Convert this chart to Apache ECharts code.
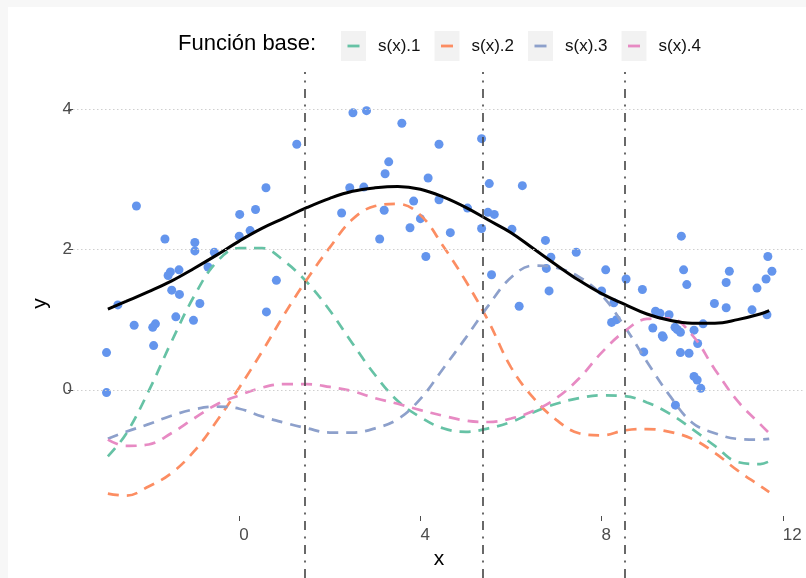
<!doctype html>
<html lang="es">
<head>
<meta charset="UTF-8">
<title>s(x)</title>
<style>
  html, body { margin: 0; padding: 0; background: #fff; }
</style>
</head>
<body>
<div id="chart" style="width: 806px; height: 578px"></div>
<script src="https://cdn.jsdelivr.net/npm/echarts@6/dist/echarts.min.js"></script>
<script>
// observed points
var pointX = [-2.27, -1.64, -0.98, -0.98, -0.55, -0.69, 0.01, 0.36, 0.59, 0.00, 0.24, -1.52, -1.57, -1.33,
    -1.49, -1.32, -0.87, -2.68, -1.40, -1.01, -2.32, -1.85, -1.91, -1.89, -2.93, -2.93, 0.60, 1.27, 2.51,
    2.81, 3.59, 4.41, 3.30, 3.22, 2.44, 2.75, 4.17, 3.85, 2.26, 3.20, 4.00, 3.77, 3.10, 4.12, 0.82, 4.41,
    5.35, 5.52, 6.25, 5.04, 5.49, 5.63, 4.66, 5.35, 6.02, 6.76, 6.88, 7.44, 6.78, 5.57, 6.84, 6.18, 8.09,
    8.00, 8.22, 8.33, 8.54, 9.76, 9.81, 9.88, 8.90, 10.82, 10.75, 11.67, 11.76, 11.63, 11.43, 10.49, 10.75,
    11.32, 11.65, 8.27, 9.19, 9.29, 9.49, 9.13, 9.34, 9.36, 9.62, 9.67, 9.74, 10.04, 10.24, 10.12, 9.74,
    9.93, 8.93, 10.04, 10.11, 10.19, 9.63];
var pointY = [2.62, 2.15, 2.10, 1.98, 1.96, 1.75, 2.50, 2.57, 2.88, 2.19, 2.27, 1.68, 1.63, 1.71,
    1.42, 1.36, 1.23, 1.21, 1.04, 0.99, 0.92, 0.94, 0.89, 0.63, 0.53, -0.04, 1.11, 3.50, 3.95,
    3.98, 3.80, 3.50, 3.25, 3.08, 2.88, 2.89, 3.02, 2.69, 2.52, 2.56, 2.44, 2.31, 2.15, 1.90, 1.56, 2.71,
    3.58, 2.94, 2.91, 2.59, 2.53, 2.50, 2.24, 2.30, 2.29, 2.13, 1.89, 1.96, 1.73, 1.64, 1.41, 1.19, 1.71,
    1.41, 0.96, 1.00, 1.58, 2.19, 1.71, 1.50, 1.43, 1.69, 1.53, 1.90, 1.69, 1.58, 1.45, 1.23, 1.17,
    1.14, 1.07, 1.24, 1.12, 1.09, 1.07, 0.88, 0.77, 0.75, 0.89, 0.86, 0.82, 0.85, 0.94, 0.66, 0.53,
    0.52, 0.54, 0.19, 0.14, 0.02, -0.22];

// curves sampled on a grid of x
var curveX = [-2.9, -2.5, -2, -1.5, -1, -0.5, 0, 0.5, 1, 1.5, 2, 2.5, 3, 3.5, 4, 4.5, 5, 5.5, 6, 6.5,
    7, 7.5, 8, 8.5, 9, 9.5, 10, 10.5, 11, 11.5, 11.7];
var fitY = [1.15, 1.26, 1.40, 1.55, 1.73, 1.92, 2.12, 2.30, 2.45, 2.60, 2.73, 2.83, 2.88, 2.90, 2.86,
    2.75, 2.60, 2.42, 2.24, 2.01, 1.78, 1.56, 1.37, 1.22, 1.08, 0.99, 0.95, 0.95, 1.00, 1.08, 1.13];
var s1 = [-0.95, -0.63, -0.02, 0.68, 1.33, 1.82, 2.02, 2.02, 1.83, 1.53, 1.13, 0.66, 0.21, -0.16, -0.39,
    -0.55, -0.60, -0.55, -0.46, -0.32, -0.20, -0.12, -0.08, -0.09, -0.18, -0.34, -0.56, -0.80, -1.03, -1.06, -1.02];
var s2 = [-1.48, -1.51, -1.38, -1.19, -0.88, -0.45, 0.03, 0.54, 1.08, 1.58, 2.03, 2.43, 2.62, 2.65, 2.49,
    2.05, 1.55, 0.98, 0.32, -0.12, -0.43, -0.62, -0.65, -0.58, -0.56, -0.60, -0.70, -0.90, -1.15, -1.37, -1.46];
var s3 = [-0.70, -0.60, -0.49, -0.37, -0.28, -0.24, -0.27, -0.38, -0.47, -0.55, -0.61, -0.61, -0.55, -0.42, -0.13,
    0.30, 0.74, 1.20, 1.60, 1.77, 1.74, 1.61, 1.35, 0.91, 0.40, -0.08, -0.47, -0.62, -0.70, -0.71, -0.70];
var s4 = [-0.71, -0.80, -0.78, -0.62, -0.41, -0.21, -0.08, 0.03, 0.08, 0.08, 0.04, -0.02, -0.12, -0.20, -0.29,
    -0.37, -0.44, -0.46, -0.41, -0.30, -0.12, 0.16, 0.53, 0.83, 1.01, 1.02, 0.78, 0.29, -0.16, -0.49, -0.62];

var basisNames = ['s(x).1', 's(x).2', 's(x).3', 's(x).4'];
var basisColors = ['#66c2a5', '#fc8d62', '#8da0cb', '#e78ac3'];
var knots = [1.44, 5.37, 8.50];
var xTicks = [0, 4, 8, 12];
var yTicks = [0, 2, 4];

var xMin = -3.67, xMax = 12.49, yMin = -1.8, yMax = 4.26;

function pairs(xs, ys) {
    return xs.map(function (x, i) { return [x, ys[i]]; });
}

var chart = echarts.init(document.getElementById('chart'));

// key: grey box (legend 0) with a short coloured bar on top (legend 1)
var keyIcon = 'path://M0,0L0,0M25,30L25,30M6.5,13.6L18.5,13.6L18.5,16.4L6.5,16.4Z';
var legendBase = {
    orient: 'horizontal',
    left: 341,
    top: 31,
    padding: 0,
    itemWidth: 25,
    itemHeight: 30,
    itemGap: 14,
    selectedMode: false,
    data: basisNames
};

var basisSeries = [s1, s2, s3, s4].map(function (ys, i) {
    return {
        name: basisNames[i],
        type: 'line',
        data: pairs(curveX, ys),
        smooth: 0.4,
        showSymbol: false,
        silent: true,
        z: 3,
        itemStyle: {color: basisColors[i]},
        lineStyle: {color: basisColors[i], width: 2.7, type: [11, 8]}
    };
});

var option = {
    backgroundColor: '#ffffff',
    animation: false,
    textStyle: {fontFamily: 'Liberation Sans, Arial, sans-serif'},
    graphic: [
        {type: 'rect', shape: {x: 0, y: 0, width: 8, height: 578}, style: {fill: '#f7f7f7'}, silent: true},
        {type: 'rect', shape: {x: 0, y: 0, width: 806, height: 7}, style: {fill: '#f7f7f7'}, silent: true}
    ],
    title: {
        text: 'Función base:',
        left: 178,
        top: 33,
        padding: 0,
        textStyle: {fontSize: 22, fontWeight: 'normal', color: '#000', fontFamily: 'Liberation Sans, Arial, sans-serif'}
    },
    legend: [
        Object.assign({}, legendBase, {
            z: 3,
            icon: 'rect',
            itemStyle: {color: '#f2f2f2', borderWidth: 0},
            textStyle: {fontSize: 17, color: 'rgba(0,0,0,0)', padding: [0, 0, 0, 7]}
        }),
        Object.assign({}, legendBase, {
            z: 4,
            icon: keyIcon,
            itemStyle: {borderWidth: 0},
            textStyle: {fontSize: 17, color: '#111', padding: [0, 0, 0, 7]}
        })
    ],
    grid: [
        {left: 73, right: 1, top: 91, bottom: 62},
        {left: 73, right: 1, top: 72, bottom: 0}
    ],
    xAxis: [
        {
            type: 'value', gridIndex: 0, min: xMin, max: xMax,
            name: 'x', nameLocation: 'middle', nameGap: 33,
            nameTextStyle: {fontSize: 21, color: '#000'},
            axisLine: {show: false, onZero: false},
            splitLine: {show: false},
            axisTick: {show: true, customValues: xTicks, length: 5, lineStyle: {color: '#4d4d4d'}},
            axisLabel: {customValues: xTicks, align: 'left', margin: 11, fontSize: 17, color: '#4d4d4d'}
        },
        {type: 'value', gridIndex: 1, min: xMin, max: xMax, show: false}
    ],
    yAxis: [
        {
            type: 'value', gridIndex: 0, min: yMin, max: yMax,
            name: 'y', nameLocation: 'middle', nameGap: 22,
            nameTextStyle: {fontSize: 21, color: '#000'},
            axisLine: {show: false, onZero: false},
            splitLine: {show: false},
            axisTick: {show: true, customValues: yTicks, length: 5, lineStyle: {color: '#4d4d4d'}},
            axisLabel: {customValues: yTicks, margin: 1, fontSize: 17, color: '#4d4d4d'}
        },
        {type: 'value', gridIndex: 1, min: 0, max: 1, show: false}
    ],
    series: [
        {
            name: 'grid',
            type: 'line',
            data: [],
            z: 1,
            silent: true,
            markLine: {
                silent: true,
                symbol: 'none',
                label: {show: false},
                lineStyle: {color: '#cfcfcf', width: 1, type: [1.5, 2.5]},
                data: yTicks.map(function (v) { return {yAxis: v}; })
            }
        },
        {
            name: 'datos',
            type: 'scatter',
            data: pairs(pointX, pointY),
            symbolSize: 9,
            z: 2,
            itemStyle: {color: '#6495ed', opacity: 1}
        }
    ].concat(basisSeries).concat([
        {
            name: 'ajuste',
            type: 'line',
            data: pairs(curveX, fitY),
            smooth: 0.4,
            showSymbol: false,
            silent: true,
            z: 4,
            lineStyle: {color: '#000', width: 3}
        },
        {
            name: 'nodos',
            type: 'line',
            xAxisIndex: 1,
            yAxisIndex: 1,
            data: [],
            z: 5,
            silent: true,
            markLine: {
                silent: true,
                symbol: 'none',
                label: {show: false},
                lineStyle: {color: '#444', width: 1.6, type: [9, 6.5, 2, 6.5]},
                data: knots.map(function (k) { return {xAxis: k}; })
            }
        }
    ])
};

chart.setOption(option);
</script>
</body>
</html>
